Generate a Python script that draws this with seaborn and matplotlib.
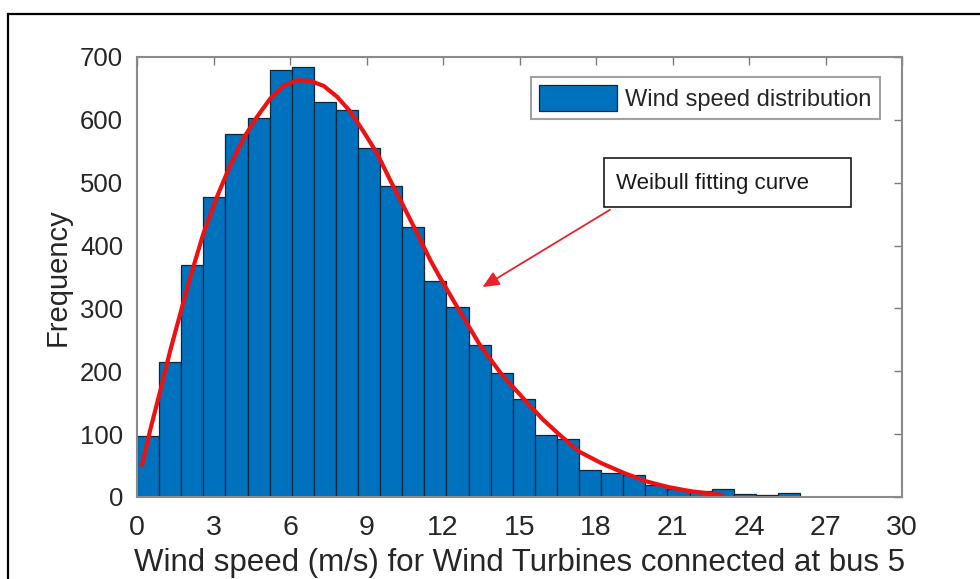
import numpy as np
import pandas as pd
import matplotlib
matplotlib.use("Agg")
import matplotlib.pyplot as plt
import seaborn as sns
from matplotlib.patches import Rectangle

# ---- data ----
bin_lo, bin_hi, n_bins = 0.0, 26.0, 30
counts = [97, 215, 369, 478, 577, 603, 680, 684, 629, 616,
          556, 494, 429, 344, 303, 242, 198, 156, 99, 92,
          43, 38, 35, 19, 13, 9, 13, 5, 3, 7]
curve_x = [0.2, 0.52, 0.92, 1.31, 1.70, 2.09, 2.61, 3.14, 3.66, 4.18,
           4.71, 5.23, 5.75, 6.27, 6.80, 7.32, 7.84, 8.37, 8.89, 9.41,
           9.93, 10.46, 10.98, 11.50, 11.87, 12.59, 13.43, 14.28, 15.26, 15.9,
           16.57, 17.35, 18.2, 19.11, 19.96, 20.81, 21.66, 22.57, 22.97]
curve_y = [51, 107, 170, 234, 292, 350, 420, 478, 528, 571,
           605, 634, 654, 663, 662, 654, 637, 613, 581, 547,
           504, 462, 420, 377, 350, 300, 243, 196, 152, 124,
           99, 72, 54, 38, 25, 16, 9.5, 5, 3]
x_ticks = [0, 3, 6, 9, 12, 15, 18, 21, 24, 27, 30]
y_ticks = [0, 100, 200, 300, 400, 500, 600, 700]
hist_label = "Wind speed distribution"
note_text = "Weibull fitting curve"
x_title = "Wind speed (m/s) for Wind Turbines connected at bus 5"
y_title = "Frequency"

edges = np.linspace(bin_lo, bin_hi, n_bins + 1)
centers = (edges[:-1] + edges[1:]) / 2
df = pd.DataFrame({"speed": centers, "count": counts})
cf = pd.DataFrame({"x": curve_x, "y": curve_y})

sns.set_style("white")
plt.rcParams["font.family"] = ["Liberation Sans", "DejaVu Sans"]

fig = plt.figure(figsize=(9.8, 5.79), dpi=100)
ax = fig.add_axes([137/980, 1 - 497/579, (902-137)/980, (497-57)/579])

sns.histplot(data=df, x="speed", weights="count", bins=n_bins,
             binrange=(bin_lo, bin_hi), ax=ax,
             color="#0072BD", alpha=1.0, edgecolor="#10263a", linewidth=0.9,
             label=hist_label)
sns.lineplot(data=cf, x="x", y="y", ax=ax, color="#ee1111", linewidth=3.0,
             legend=False)

ax.set_xlim(0, 30)
ax.set_ylim(0, 700)
ax.set_xticks(x_ticks)
ax.set_yticks(y_ticks)
ax.set_xticklabels([str(t) for t in x_ticks], fontsize=20.5)
ax.set_yticklabels([str(t) for t in y_ticks], fontsize=18.5)
ax.tick_params(direction="in", length=6, width=1.0, colors="#7a7a7a",
               labelcolor="#262626", top=True, right=True)
ax.tick_params(axis="x", pad=13)
ax.tick_params(axis="y", pad=10)
for s in ax.spines.values():
    s.set_color("#8a8a8a")
    s.set_linewidth(1.5)

ax.set_xlabel(x_title, fontsize=22.5, color="#262626", labelpad=5)
ax.set_ylabel(y_title, fontsize=21, color="#262626", labelpad=6)

leg = ax.legend(loc="upper right", bbox_to_anchor=((880-137)/765, (497-77)/440),
                fontsize=17, frameon=True, fancybox=False, handlelength=3.3,
                handleheight=1.3, borderpad=0.35, handletextpad=0.35,
                borderaxespad=0)
leg.get_frame().set_edgecolor("#8a8a8a")
leg.get_frame().set_linewidth(1.5)
for t in leg.get_texts():
    t.set_color("#262626")

ax.annotate("", xy=(13.55, 334), xytext=(18.55, 457),
            arrowprops=dict(arrowstyle="-|>,head_length=1.0,head_width=0.45",
                            color="#e8232a", lw=1.3, shrinkA=0, shrinkB=0))
ax.add_patch(Rectangle((18.33, 461), 9.67, 78, facecolor="white",
                       edgecolor="#1a1a1a", linewidth=1.2, zorder=5))
ax.text(18.8, 499.5, note_text, fontsize=16, color="#1a1a1a", va="center",
        ha="left", zorder=6)

fig.patches.append(Rectangle((8/980, -0.1), 1.2, (579-14)/579 + 0.1,
                             transform=fig.transFigure, fill=False,
                             edgecolor="black", linewidth=1.6))

fig.savefig("out.png", dpi=100)
